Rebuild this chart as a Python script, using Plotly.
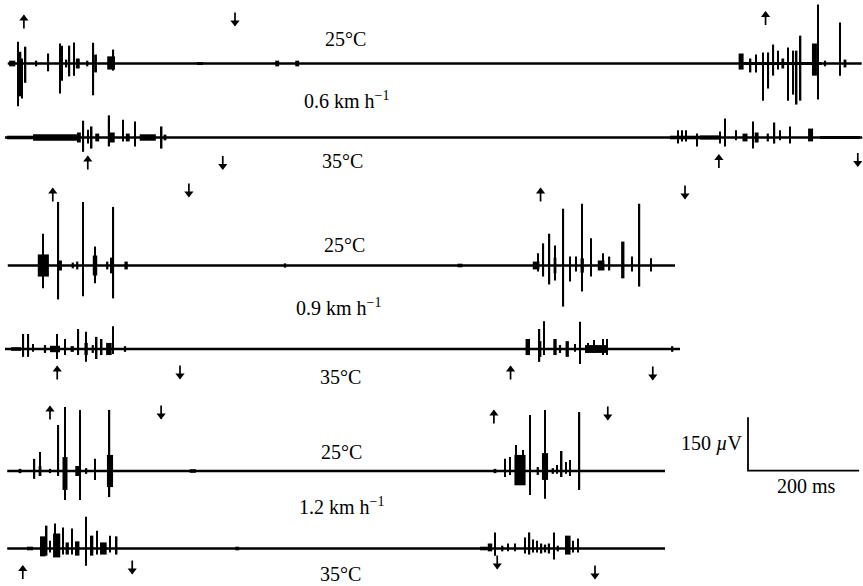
import plotly.graph_objects as go

# Electromyogram bursts recorded at three walking speeds, 25 °C vs 35 °C.
# Each event: (time ms, peak above baseline µV, peak below baseline µV, burst duration ms; 0 = single spike)

rec_25c_06 = [
    (13, 8, 8, 11), (23, 61, 120, 0), (28, 33, 92, 0), (31, 14, 98, 0), (37, 47, 54, 0),
    (56, 8, 8, 4), (78, 28, 22, 0), (99, 56, 84, 0), (103, 50, 48, 0), (110, 11, 11, 4),
    (116, 50, 36, 0), (124, 59, 34, 0), (131, 14, 14, 7), (148, 8, 8, 4), (159, 58, 89, 0),
    (163, 25, 25, 5), (191, 20, 17, 14), (195, 39, 20, 0),
    (351, 4, 4, 11), (490, 8, 8, 7), (526, 8, 8, 7),
    (1400, 4, 4, 140), (1325, 28, 17, 9), (1342, 14, 25, 0), (1352, 25, 25, 0),
    (1364, 31, 104, 0), (1374, 31, 70, 0), (1383, 53, 34, 0), (1391, 36, 17, 0),
    (1400, 14, 14, 5), (1409, 45, 104, 0), (1419, 36, 87, 0), (1425, 36, 115, 0),
    (1432, 78, 104, 0), (1457, 56, 34, 9), (1463, 165, 101, 0), (1476, 8, 8, 4),
    (1503, 115, 34, 0), (1512, 11, 11, 5),
]

rec_35c_06 = [
    (27, 5, 5, 47), (90, 9, 9, 79), (133, 14, 14, 7), (141, 47, 40, 0), (149, 22, 17, 0),
    (156, 31, 31, 0), (166, 11, 11, 7), (187, 62, 25, 4), (193, 14, 14, 9), (212, 50, 11, 0),
    (221, 11, 11, 7), (234, 45, 25, 0), (257, 9, 9, 29), (282, 31, 31, 0), (288, 8, 8, 5),
    (1224, 5, 5, 54), (1211, 20, 17, 0), (1219, 20, 11, 0), (1226, 20, 11, 0),
    (1246, 11, 25, 0), (1269, 6, 6, 36), (1287, 17, 17, 0), (1296, 53, 25, 0),
    (1316, 20, 8, 0), (1332, 11, 11, 9), (1346, 45, 31, 0), (1353, 14, 14, 7),
    (1373, 11, 11, 4), (1385, 42, 17, 0), (1395, 20, 8, 0), (1413, 31, 17, 0),
    (1450, 25, 11, 9), (1503, 4, 4, 72),
]

rec_25c_09 = [
    (69, 31, 31, 20), (68, 89, 64, 0), (96, 178, 95, 0), (99, 14, 14, 7), (122, 8, 8, 4),
    (130, 11, 11, 4), (140, 178, 86, 0), (162, 53, 50, 0), (162, 28, 28, 8), (184, 11, 11, 4),
    (192, 22, 22, 6), (195, 164, 92, 0), (218, 11, 11, 6),
    (504, 6, 6, 4), (819, 5, 5, 9),
    (956, 11, 11, 12), (959, 34, 17, 0), (969, 62, 31, 0), (980, 89, 53, 0), (990, 56, 42, 0),
    (990, 22, 22, 5), (1005, 159, 115, 0), (1017, 25, 45, 0), (1028, 25, 17, 0),
    (1039, 173, 73, 0), (1039, 20, 20, 6), (1055, 76, 31, 0), (1073, 14, 14, 12),
    (1076, 34, 11, 0), (1088, 25, 14, 0), (1112, 67, 36, 6), (1129, 25, 17, 0),
    (1142, 173, 59, 0), (1163, 20, 17, 0),
]

rec_35c_09 = [
    (20, 5, 5, 18), (33, 42, 22, 0), (42, 42, 22, 0), (50, 14, 8, 0), (72, 11, 11, 4),
    (90, 9, 9, 18), (94, 42, 28, 0), (108, 28, 17, 0), (121, 8, 8, 6), (132, 56, 17, 0),
    (146, 48, 36, 0), (146, 17, 17, 6), (158, 11, 11, 4), (165, 34, 28, 0), (174, 28, 17, 0),
    (187, 17, 17, 10), (194, 64, 14, 0), (216, 8, 8, 4),
    (878, 3, 3, 81), (941, 28, 17, 8), (962, 56, 36, 0), (963, 22, 22, 5), (970, 78, 17, 0),
    (990, 28, 17, 6), (999, 11, 11, 4), (1012, 22, 22, 6), (1026, 14, 8, 0),
    (1035, 76, 42, 0), (1064, 11, 11, 40), (1049, 17, 11, 0), (1060, 25, 11, 0),
    (1076, 28, 17, 0), (1084, 28, 17, 0), (1201, 8, 8, 4),
]

rec_25c_12 = [
    (27, 6, 6, 5), (53, 34, 22, 0), (63, 53, 14, 0), (63, 14, 14, 5), (81, 6, 6, 4),
    (96, 129, 14, 0), (108, 39, 53, 9), (108, 179, 81, 0), (131, 14, 14, 9),
    (135, 171, 81, 0), (146, 8, 8, 4), (162, 34, 25, 0), (189, 45, 45, 11), (188, 171, 73, 0),
    (338, 5, 5, 11),
    (882, 6, 6, 5), (900, 34, 17, 0), (909, 39, 11, 0), (927, 45, 40, 20), (920, 73, 20, 0),
    (932, 59, 25, 0), (945, 157, 67, 0), (959, 11, 11, 4), (972, 50, 25, 11),
    (972, 171, 78, 0), (986, 8, 8, 4), (994, 17, 8, 0), (1002, 56, 17, 0), (1010, 25, 8, 0),
    (1017, 31, 14, 0), (1034, 165, 53, 0),
]

rec_35c_12 = [
    (45, 5, 5, 11), (68, 34, 22, 10), (75, 64, 20, 0), (81, 22, 11, 0), (93, 42, 25, 13),
    (90, 70, 20, 0), (104, 59, 17, 0), (112, 17, 17, 6), (121, 56, 17, 0), (130, 20, 20, 8),
    (146, 89, 48, 0), (156, 36, 20, 6), (166, 50, 17, 0), (177, 17, 17, 12), (189, 36, 11, 0),
    (201, 34, 17, 0), (418, 5, 5, 7),
    (862, 5, 5, 14), (873, 14, 8, 8), (882, 45, 20, 0), (895, 8, 8, 4), (905, 14, 8, 0),
    (918, 14, 8, 0), (936, 31, 14, 0), (944, 45, 17, 0), (950, 25, 11, 0), (958, 22, 11, 0),
    (965, 14, 14, 4), (972, 11, 11, 4), (979, 14, 14, 4), (988, 45, 31, 0), (995, 8, 8, 4),
    (1013, 36, 17, 10), (1022, 22, 11, 0), (1031, 28, 11, 0),
]

records = [rec_25c_06, rec_35c_06, rec_25c_09, rec_35c_09, rec_25c_12, rec_35c_12]
rec_start_ms = [5, 0, 5, 0, 4, 4]
rec_end_ms = [1542, 1543, 1206, 1215, 1188, 1188]

speed_labels = ["0.6 km h<sup>−1</sup>", "0.9 km h<sup>−1</sup>", "1.2 km h<sup>−1</sup>"]
temp_labels = ["25°C", "35°C"]

# Step-cycle markers per speed: (time ms, direction) above the 25 °C trace and below the 35 °C trace
marks_top = [
    [(34, "up"), (414, "down"), (1369, "up")],
    [(86, "up"), (331, "down"), (964, "up"), (1224, "down")],
    [(81, "up"), (281, "down"), (880, "up"), (1085, "down")],
]
marks_bottom = [
    [(149, "up"), (392, "down"), (1285, "up"), (1535, "down")],
    [(94, "up"), (315, "down"), (910, "up"), (1166, "down")],
    [(32, "up"), (229, "down"), (886, "down"), (1062, "down")],
]

SCALE_UV = 150
SCALE_MS = 200

# ---- page geometry ----
W, H = 863, 586
MS_PER_PX = 1.8
UV_PER_PX = 2.8
X0_PX = 5
baseline_px = [63.5, 137.5, 265.5, 349, 471, 548.5]
marks_top_px = [[22, 19, 18.5], [195, 190, 195, 192], [413, 412, 417, 413]]
marks_bottom_px = [[163, 162.5, 161.5, 159.5], [373, 372, 373, 373], [572.5, 567, 562, 572]]
SPIKE_MS = 2.8
INK = "black"
FONT = dict(family="Liberation Serif, Times New Roman, serif", size=20, color=INK)


def y_of(px):
    return -px * UV_PER_PX


fig = go.Figure()

for rec, t0, t1, bpx in zip(records, rec_start_ms, rec_end_ms, baseline_px):
    off = y_of(bpx)
    fig.add_trace(go.Scatter(
        x=[t0, t1], y=[off, off], mode="lines",
        line=dict(color=INK, width=2.7), hoverinfo="skip",
    ))
    fig.add_trace(go.Bar(
        x=[e[0] for e in rec],
        y=[e[1] + e[2] for e in rec],
        base=[off - e[2] for e in rec],
        width=[e[3] if e[3] > 0 else SPIKE_MS for e in rec],
        marker=dict(color=INK, line=dict(width=0)),
        hoverinfo="skip",
    ))

# calibration bar
sb_x = (748 - X0_PX) * MS_PER_PX
sb_y = y_of(470.7)
fig.add_trace(go.Scatter(
    x=[sb_x, sb_x, sb_x + SCALE_MS],
    y=[sb_y + SCALE_UV, sb_y, sb_y],
    mode="lines", line=dict(color=INK, width=1.8), hoverinfo="skip",
))

# step markers: short stems with a triangular head
ARROW_HALF = 6.5
stem_x, stem_y = [], []
head_x, head_y, head_sym = [], [], []
for marks, centers in list(zip(marks_top, marks_top_px)) + list(zip(marks_bottom, marks_bottom_px)):
    for (t, d), c in zip(marks, centers):
        stem_x += [t, t, None]
        stem_y += [y_of(c - ARROW_HALF), y_of(c + ARROW_HALF), None]
        head_x.append(t)
        if d == "up":
            head_y.append(y_of(c - ARROW_HALF + 3))
            head_sym.append("triangle-up")
        else:
            head_y.append(y_of(c + ARROW_HALF - 3))
            head_sym.append("triangle-down")

fig.add_trace(go.Scatter(
    x=stem_x, y=stem_y, mode="lines",
    line=dict(color=INK, width=1.7), hoverinfo="skip",
))
fig.add_trace(go.Scatter(
    x=head_x, y=head_y, mode="markers",
    marker=dict(symbol=head_sym, size=8, color=INK, line=dict(width=0)),
    hoverinfo="skip",
))

annotations = []


def text(s, px, py):
    annotations.append(dict(
        text=s, x=px / W, y=1 - py / H, xref="paper", yref="paper",
        xanchor="center", yanchor="middle", showarrow=False, font=FONT,
    ))


text(temp_labels[0], 345, 38.5)
text(speed_labels[0], 346, 100)
text(temp_labels[1], 342, 160.5)
text(temp_labels[0], 344, 244.5)
text(speed_labels[1], 338, 307)
text(temp_labels[1], 340, 377)
text(temp_labels[0], 341, 452)
text(speed_labels[2], 341, 506)
text(temp_labels[1], 340, 573.5)
text(f"{SCALE_UV} <i>µ</i>V", 712, 443)
text(f"{SCALE_MS} ms", 806, 486)

fig.update_layout(
    width=W, height=H, autosize=False,
    margin=dict(l=0, r=0, t=0, b=0),
    paper_bgcolor="white", plot_bgcolor="white",
    showlegend=False, barmode="overlay",
    xaxis=dict(range=[-X0_PX * MS_PER_PX, (W - X0_PX) * MS_PER_PX], visible=False, fixedrange=True),
    yaxis=dict(range=[y_of(H), 0], visible=False, fixedrange=True),
    annotations=annotations,
)

fig.write_html("out.html")
